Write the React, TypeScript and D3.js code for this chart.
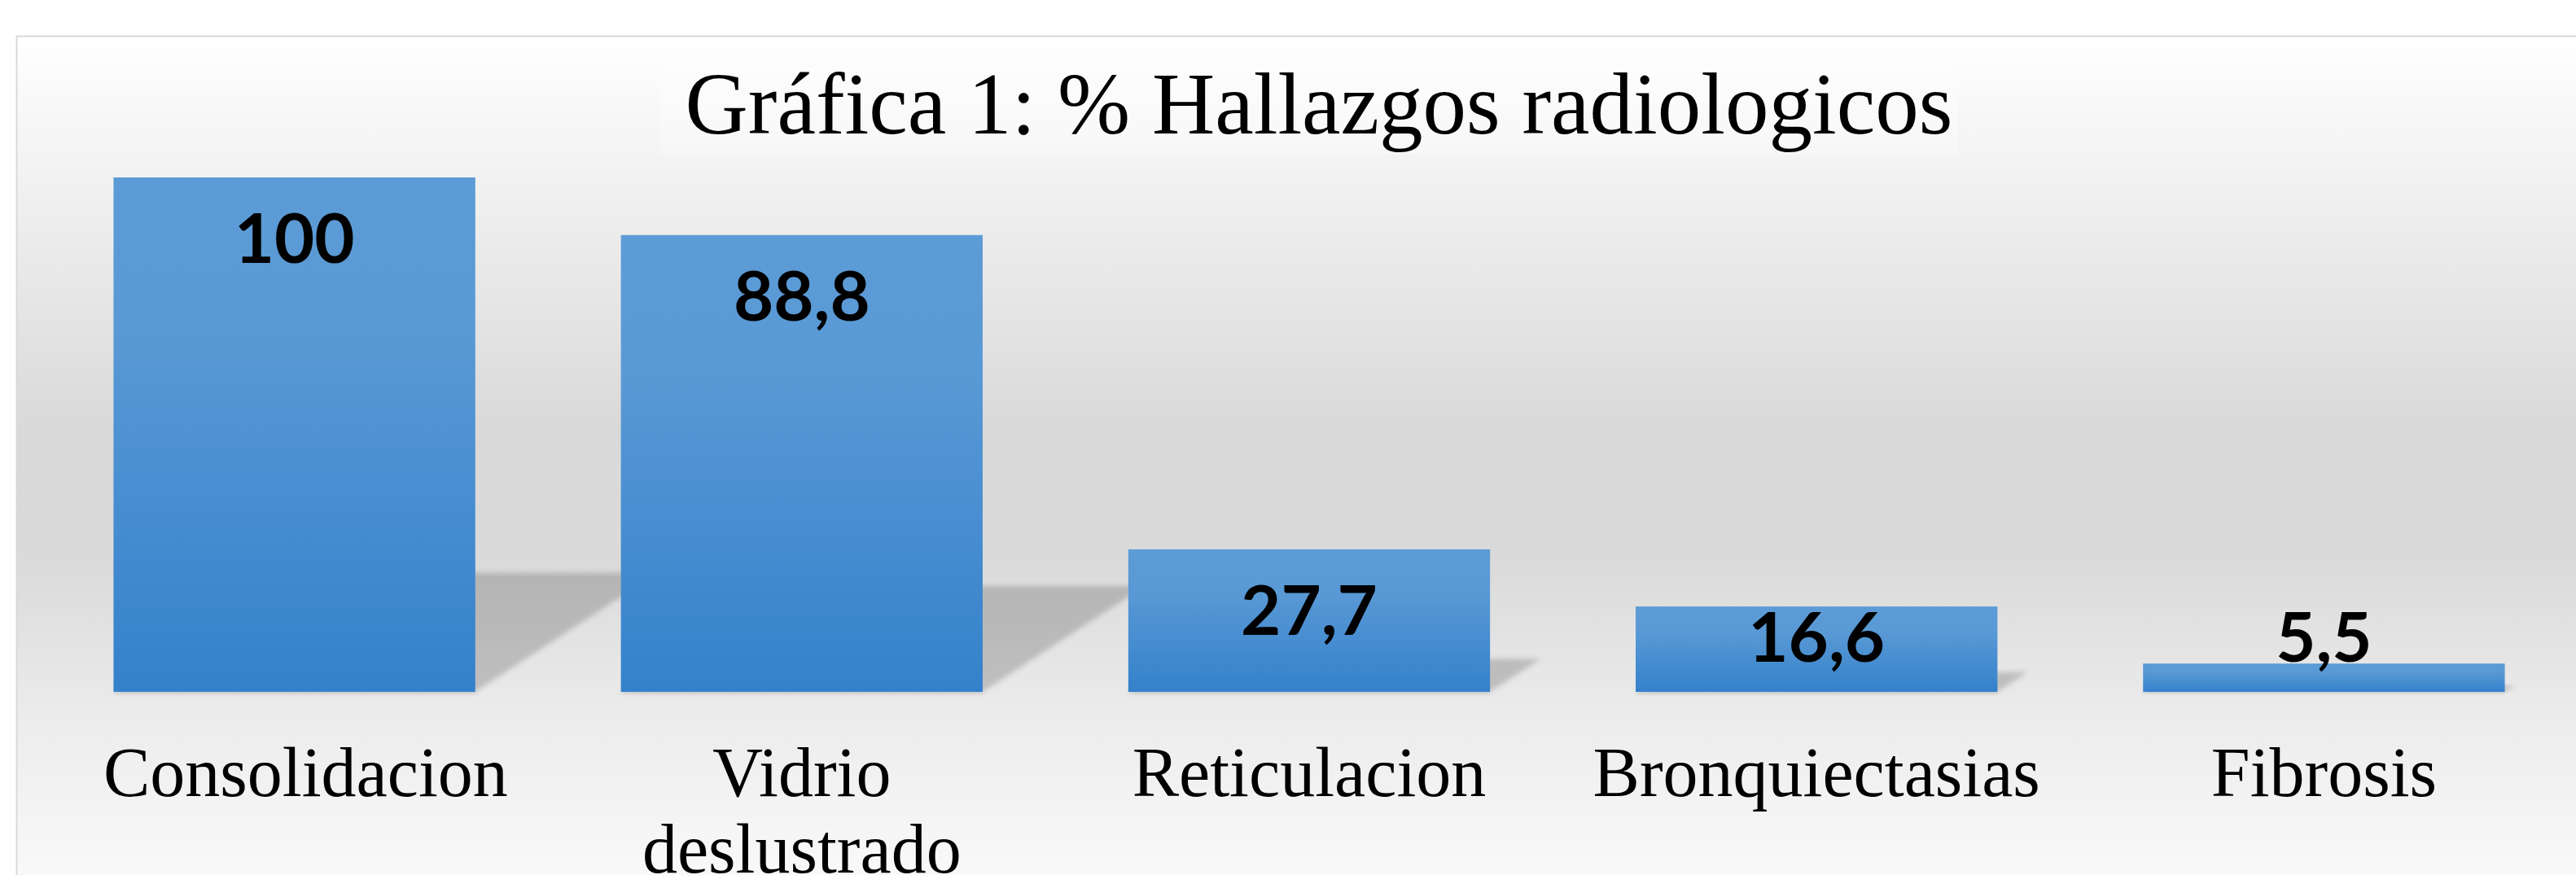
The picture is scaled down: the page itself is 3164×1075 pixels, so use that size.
import React from "react";
import * as d3 from "d3";

const title = "Gráfica 1: % Hallazgos radiologicos";
const categories = ["Consolidacion", "Vidrio deslustrado", "Reticulacion", "Bronquiectasias", "Fibrosis"];
const values = [100, 88.8, 27.7, 16.6, 5.5];
const yDomain = [0, 100];

const W = 3164;
const H = 1075;

const locale = d3.formatLocale({ decimal: ",", thousands: ".", grouping: [3], currency: ["", "€"] });
const fmt = (v: number) => (Number.isInteger(v) ? String(v) : locale.format(".1f")(v));

const catFont = "86px 'Liberation Serif'";

function measure(text: string): number {
  const canvas = document.createElement("canvas");
  const ctx = canvas.getContext("2d");
  if (!ctx) return text.length * 40;
  ctx.font = catFont;
  return ctx.measureText(text).width;
}

function wrapLabel(text: string, maxW: number): string[] {
  const words = text.split(" ");
  const lines: string[] = [];
  let cur = "";
  for (const w of words) {
    const t = cur ? cur + " " + w : w;
    if (cur && measure(t) > maxW) {
      lines.push(cur);
      cur = w;
    } else cur = t;
  }
  if (cur) lines.push(cur);
  return lines;
}

export default function App() {
  const x = d3
    .scaleBand<string>()
    .domain(categories)
    .range([50, 3166])
    .paddingInner(0.287)
    .paddingOuter(0.1435);
  const y = d3.scaleLinear().domain(yDomain).range([850, 218]);
  const y0 = y(0);
  const bw = x.bandwidth();
  const step = x.step();
  const shadowScale = 0.232;
  const skew = 1.53;
  const labelLeftBound = 127;

  return (
    <svg
      width={W}
      height={H}
      style={{ position: "absolute", left: 0, top: 0, display: "block" }}
      xmlns="http://www.w3.org/2000/svg"
    >
      <defs>
        <linearGradient id="bg" x1="0" y1="44" x2="0" y2="1120" gradientUnits="userSpaceOnUse">
          <stop offset="0" stopColor="#ffffff" />
          <stop offset="0.18" stopColor="#f0f0f0" />
          <stop offset="0.45" stopColor="#d9d9d9" />
          <stop offset="0.6" stopColor="#dadada" />
          <stop offset="0.78" stopColor="#ececec" />
          <stop offset="1" stopColor="#fcfcfc" />
        </linearGradient>
        <linearGradient id="barGrad" x1="0" y1="0" x2="0" y2="1">
          <stop offset="0" stopColor="#5c9bd6" />
          <stop offset="0.3" stopColor="#5999d5" />
          <stop offset="1" stopColor="#3481cb" />
        </linearGradient>
        <filter id="blur" x="-20%" y="-20%" width="140%" height="140%">
          <feGaussianBlur stdDeviation="3" />
        </filter>
        <filter id="blur2" x="-20%" y="-100%" width="140%" height="300%">
          <feGaussianBlur stdDeviation="1.5" />
        </filter>
      </defs>
      <rect x={0} y={0} width={W} height={H} fill="#ffffff" />
      <rect x={20.5} y={44.5} width={3300} height={1200} fill="url(#bg)" stroke="#d9d9d9" strokeWidth={2} />
      <rect x={811} y={84} width={1594} height={106} fill="#ffffff" fillOpacity={0.3} />
      <text
        x={1620}
        y={164}
        textAnchor="middle"
        fontFamily="'Liberation Serif', 'Times New Roman', serif"
        fontSize={107}
        fill="#000"
      >
        {title}
      </text>

      {/* shadows */}
      <g>
        {categories.map((c, i) => {
          const x0 = x(c)!;
          const x1 = x0 + bw;
          const h = (y0 - y(values[i])) * shadowScale;
          const dx = h * skew;
          const pts = [
            [x0, y0],
            [x1, y0],
            [x1 + dx, y0 - h],
            [x0 + dx, y0 - h],
          ]
            .map((p) => p.join(","))
            .join(" ");
          return <polygon key={c} points={pts} fill="#000" fillOpacity={0.18} filter="url(#blur)" />;
        })}
      </g>

      {/* bars */}
      <g>
        {categories.map((c, i) => (
          <g key={c}>
            <rect x={x(c)!} y={y0} width={bw} height={3} fill="#000" fillOpacity={0.06} filter="url(#blur2)" />
            <rect x={x(c)!} y={y(values[i])} width={bw} height={y0 - y(values[i])} fill="url(#barGrad)" />
          </g>
        ))}
      </g>

      {/* value labels */}
      <g>
        {categories.map((c, i) => (
          <text
            key={c}
            x={x(c)! + bw / 2}
            y={Math.min(y(values[i]) + 105, y0 - 37)}
            textAnchor="middle"
            fontFamily="Lato, 'Noto Sans', sans-serif"
            fontWeight={700}
            fontSize={85}
            fill="#000"
          >
            {fmt(values[i])}
          </text>
        ))}
      </g>

      {/* category labels */}
      <g>
        {categories.map((c) => {
          const lines = wrapLabel(c, step);
          const maxW = Math.max(...lines.map(measure));
          const cx = Math.max(x(c)! + bw / 2, labelLeftBound + maxW / 2);
          return (
            <text
              key={c}
              x={cx}
              y={978}
              textAnchor="middle"
              fontFamily="'Liberation Serif', 'Times New Roman', serif"
              fontSize={86}
              fill="#000"
            >
              {lines.map((l, j) => (
                <tspan key={j} x={cx} dy={j === 0 ? 0 : 94}>
                  {l}
                </tspan>
              ))}
            </text>
          );
        })}
      </g>
    </svg>
  );
}
